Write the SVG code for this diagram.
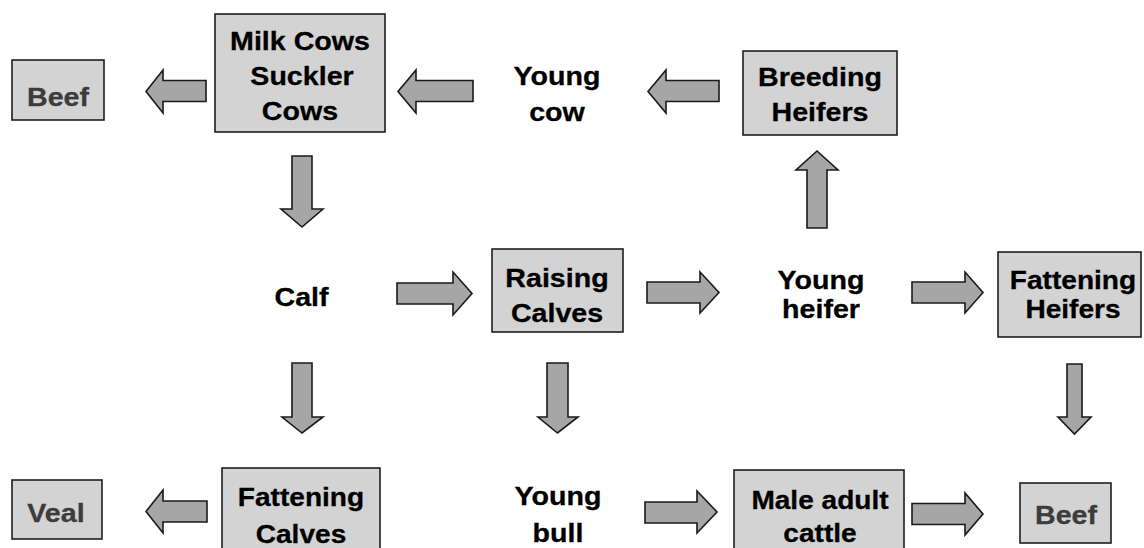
<svg xmlns="http://www.w3.org/2000/svg" width="1144" height="548" viewBox="0 0 1144 548">
  <style>
    .box { fill: #d3d3d3; stroke: #1e1e1e; stroke-width: 1.6; }
    .arrow { fill: #a6a6a6; stroke: #1a1a1a; stroke-width: 1.6; stroke-linejoin: miter; }
    text { font-family: "Liberation Sans", Arial, sans-serif; font-weight: bold; font-size: 26px; text-anchor: middle; fill: #000; stroke: #000; stroke-width: 0.3; }
    .product { fill: #3c3c3c; stroke: #3c3c3c; }
  </style>

  <rect width="1144" height="548" fill="#ffffff"/>

  <!-- Connectors: block arrows -->
  <g id="connectors">
    <path class="arrow" d="M146,91.5 L163,70 L163,80.5 L206,80.5 L206,101.5 L163,101.5 L163,113 Z"/>
    <path class="arrow" d="M398,91.5 L416,70 L416,80.5 L473,80.5 L473,101.5 L416,101.5 L416,113 Z"/>
    <path class="arrow" d="M648,91.5 L666,70 L666,80.5 L719,80.5 L719,101.5 L666,101.5 L666,113 Z"/>
    <path class="arrow" d="M292,156 L312,156 L312,209 L323,209 L302,227 L281,209 L292,209 Z"/>
    <path class="arrow" d="M817,151 L838,170 L827,170 L827,228 L807,228 L807,170 L796,170 Z"/>
    <path class="arrow" d="M397,283 L453,283 L453,272 L472,293.5 L453,315 L453,304 L397,304 Z"/>
    <path class="arrow" d="M647,282 L700,282 L700,272 L719,292.5 L700,313 L700,303 L647,303 Z"/>
    <path class="arrow" d="M912,282 L965,282 L965,272 L983,292.5 L965,313 L965,303 L912,303 Z"/>
    <path class="arrow" d="M292,363 L312,363 L312,417 L323,417 L302,433 L282,417 L292,417 Z"/>
    <path class="arrow" d="M547,363 L568,363 L568,417 L578,417 L557.5,433 L538,417 L547,417 Z"/>
    <path class="arrow" d="M1067,364 L1082,364 L1082,417 L1091,417 L1074.5,434 L1058,417 L1067,417 Z"/>
    <path class="arrow" d="M146,511.5 L163,490 L163,501 L207,501 L207,522 L163,522 L163,533 Z"/>
    <path class="arrow" d="M645,502 L697,502 L697,491 L717,512 L697,533 L697,523 L645,523 Z"/>
    <path class="arrow" d="M912,503.5 L965,503.5 L965,493 L983,514 L965,535 L965,524.5 L912,524.5 Z"/>
  </g>

  <g id="beef-top">
    <rect class="box" x="12" y="60" width="92" height="60"/>
    <text class="product" transform="translate(58,106) scale(1.1,1)">Beef</text>
  </g>

  <g id="cows">
    <rect class="box" x="215" y="14" width="170" height="118"/>
    <text transform="translate(300,50) scale(1.1,1)">Milk Cows</text>
    <text transform="translate(302,85) scale(1.1,1)">Suckler</text>
    <text transform="translate(300,120) scale(1.1,1)">Cows</text>
  </g>

  <g id="young-cow">
    <text transform="translate(557,85) scale(1.1,1)">Young</text>
    <text transform="translate(557,121) scale(1.1,1)">cow</text>
  </g>

  <g id="breeding-heifers">
    <rect class="box" x="743" y="51" width="154" height="84"/>
    <text transform="translate(820,86) scale(1.1,1)">Breeding</text>
    <text transform="translate(820,121) scale(1.1,1)">Heifers</text>
  </g>

  <g id="calf">
    <text transform="translate(301.5,306) scale(1.1,1)">Calf</text>
  </g>

  <g id="raising-calves">
    <rect class="box" x="492" y="249" width="131" height="83"/>
    <text transform="translate(557,287) scale(1.1,1)">Raising</text>
    <text transform="translate(557,322) scale(1.1,1)">Calves</text>
  </g>

  <g id="young-heifer">
    <text transform="translate(821,289) scale(1.1,1)">Young</text>
    <text transform="translate(821,318) scale(1.1,1)">heifer</text>
  </g>

  <g id="fattening-heifers">
    <rect class="box" x="998" y="252" width="143" height="85"/>
    <text transform="translate(1073,289) scale(1.08,1)">Fattening</text>
    <text transform="translate(1073,318) scale(1.08,1)">Heifers</text>
  </g>

  <g id="veal">
    <rect class="box" x="12" y="480" width="90" height="59"/>
    <text class="product" transform="translate(56,522) scale(1.1,1)">Veal</text>
  </g>

  <g id="fattening-calves">
    <rect class="box" x="222" y="468" width="158" height="84"/>
    <text transform="translate(301,506) scale(1.08,1)">Fattening</text>
    <text transform="translate(301,543) scale(1.08,1)">Calves</text>
  </g>

  <g id="young-bull">
    <text transform="translate(558,505) scale(1.1,1)">Young</text>
    <text transform="translate(558,542) scale(1.1,1)">bull</text>
  </g>

  <g id="male-adult-cattle">
    <rect class="box" x="734" y="470" width="170" height="82"/>
    <text transform="translate(820,509) scale(1.08,1)">Male adult</text>
    <text transform="translate(820,542) scale(1.08,1)">cattle</text>
  </g>

  <g id="beef-bottom">
    <rect class="box" x="1020" y="483" width="91" height="60"/>
    <text class="product" transform="translate(1066,524) scale(1.1,1)">Beef</text>
  </g>
</svg>
